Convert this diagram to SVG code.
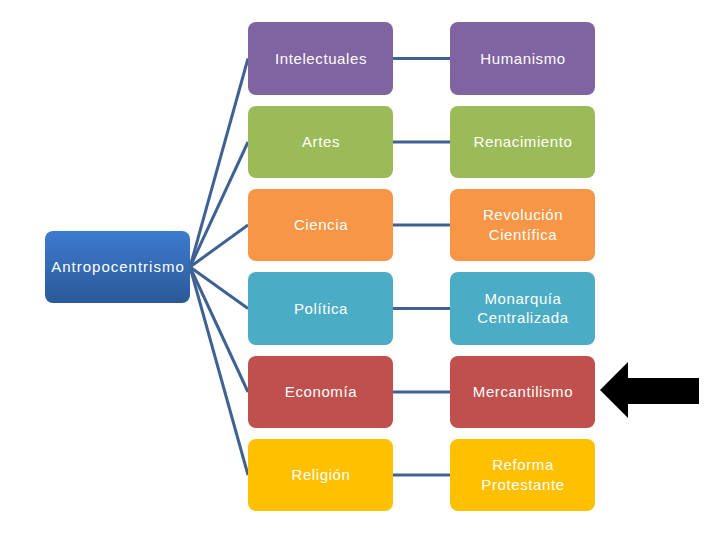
<svg xmlns="http://www.w3.org/2000/svg" width="720" height="540" viewBox="0 0 720 540">
<defs>
<linearGradient id="gRoot" x1="0" y1="0" x2="0" y2="1">
<stop offset="0" stop-color="#3D7BCF"/>
<stop offset="1" stop-color="#2B5997"/>
</linearGradient>
<style>
.box{stroke:none}
.t{font-family:"Liberation Sans","DejaVu Sans",sans-serif;font-size:15px;fill:#fff;text-anchor:middle;letter-spacing:0.6px}
.r{letter-spacing:1px}
.c{stroke:#3F6292;stroke-width:3;fill:none}
</style>
</defs>
<rect width="720" height="540" fill="#fff"/>
<g id="connectors">
<line class="c" x1="190" y1="267" x2="248" y2="58.5"/>
<line class="c" x1="190" y1="267" x2="248" y2="142"/>
<line class="c" x1="190" y1="267" x2="248" y2="225"/>
<line class="c" x1="190" y1="267" x2="248" y2="308.5"/>
<line class="c" x1="190" y1="267" x2="248" y2="392"/>
<line class="c" x1="190" y1="267" x2="248" y2="475"/>
<line class="c" x1="393" y1="58.5" x2="450" y2="58.5"/>
<line class="c" x1="393" y1="142" x2="450" y2="142"/>
<line class="c" x1="393" y1="225" x2="450" y2="225"/>
<line class="c" x1="393" y1="308.5" x2="450" y2="308.5"/>
<line class="c" x1="393" y1="392" x2="450" y2="392"/>
<line class="c" x1="393" y1="475" x2="450" y2="475"/>
</g>
<g id="root"><rect class="box" x="45" y="231" width="145" height="72" rx="8" fill="url(#gRoot)"/><text class="t r" x="118" y="272">Antropocentrismo</text></g>
<g id="n1"><rect class="box" x="248" y="22" width="145" height="73" rx="8" fill="#8064A2"/><text class="t" x="321" y="64">Intelectuales</text></g>
<g id="n2"><rect class="box" x="450" y="22" width="145" height="73" rx="8" fill="#8064A2"/><text class="t" x="523" y="64">Humanismo</text></g>
<g id="n3"><rect class="box" x="248" y="106" width="145" height="72" rx="8" fill="#9BBB59"/><text class="t" x="321" y="147">Artes</text></g>
<g id="n4"><rect class="box" x="450" y="106" width="145" height="72" rx="8" fill="#9BBB59"/><text class="t" x="523" y="147">Renacimiento</text></g>
<g id="n5"><rect class="box" x="248" y="189" width="145" height="72" rx="8" fill="#F79646"/><text class="t" x="321" y="230">Ciencia</text></g>
<g id="n6"><rect class="box" x="450" y="189" width="145" height="72" rx="8" fill="#F79646"/><text class="t" x="523" y="220">Revolución</text><text class="t" x="523" y="240">Científica</text></g>
<g id="n7"><rect class="box" x="248" y="272" width="145" height="73" rx="8" fill="#4BACC6"/><text class="t" x="321" y="314">Política</text></g>
<g id="n8"><rect class="box" x="450" y="272" width="145" height="73" rx="8" fill="#4BACC6"/><text class="t" x="523" y="304">Monarquía</text><text class="t" x="523" y="323">Centralizada</text></g>
<g id="n9"><rect class="box" x="248" y="356" width="145" height="72" rx="8" fill="#C0504D"/><text class="t" x="321" y="397">Economía</text></g>
<g id="n10"><rect class="box" x="450" y="356" width="145" height="72" rx="8" fill="#C0504D"/><text class="t" x="523" y="397">Mercantilismo</text></g>
<g id="n11"><rect class="box" x="248" y="439" width="145" height="72" rx="8" fill="#FFC000"/><text class="t" x="321" y="480">Religión</text></g>
<g id="n12"><rect class="box" x="450" y="439" width="145" height="72" rx="8" fill="#FFC000"/><text class="t" x="523" y="470">Reforma</text><text class="t" x="523" y="490">Protestante</text></g>
<g id="arrow"><polygon points="600,390 628,362 628,378 699,378 699,404 628,404 628,418" fill="#000"/></g>
</svg>
